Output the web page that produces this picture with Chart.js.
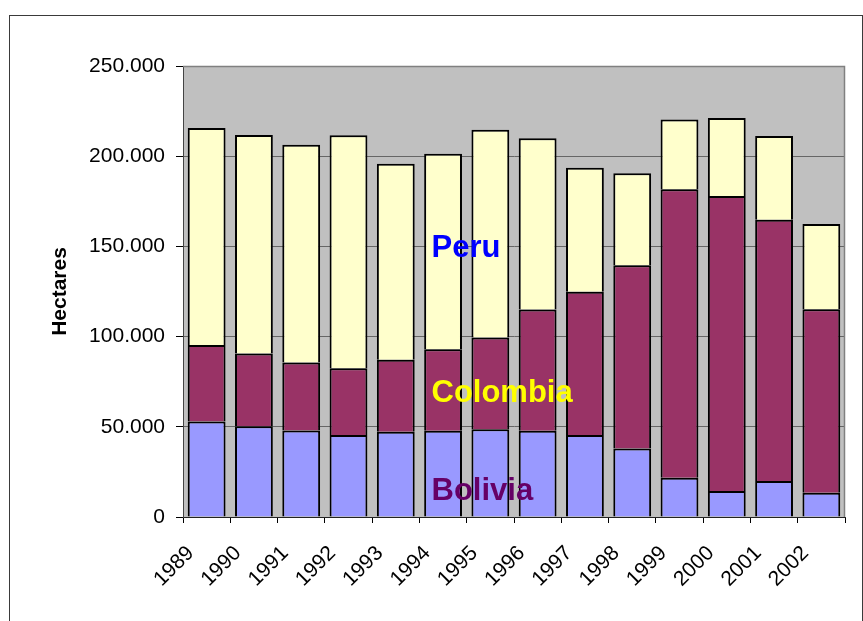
<!DOCTYPE html>
<html>
<head>
<meta charset="utf-8">
<script src="https://cdn.jsdelivr.net/npm/chart.js@4.4.0/dist/chart.umd.min.js"></script>
<style>
  html, body { margin: 0; padding: 0; background: #ffffff; }
  canvas { display: block; }
</style>
</head>
<body>
<canvas id="c" width="863" height="621"></canvas>
<script>
const years = ['1989','1990','1991','1992','1993','1994','1995','1996','1997','1998','1999','2000','2001','2002'];
const bolivia  = [52900, 50300, 47900, 45500, 47200, 47800, 48600, 47800, 45500, 38000, 21800, 14400, 19900, 13400];
const colombia = [42400, 40300, 37700, 36900, 40000, 45200, 50900, 67200, 79400, 101500, 159900, 163600, 144900, 101800];
const peru     = [120400, 121100, 120700, 129200, 108600, 108400, 115200, 95000, 68700, 51000, 38700, 43200, 46400, 47200];
const seriesNames = ['Bolivia', 'Colombia', 'Peru'];
const yTicks = [0, 50000, 100000, 150000, 200000, 250000];
const axisTitle = 'Hectares';

const FONT = "'Liberation Sans', Arial, sans-serif";

function fmt(v) {
  return String(v).replace(/\B(?=(\d{3})+(?!\d))/g, '.');
}

const backgroundPlugin = {
  id: 'bgPlot',
  beforeDraw(chart) {
    const { ctx, chartArea: a } = chart;
    ctx.save();
    ctx.fillStyle = '#ffffff';
    ctx.fillRect(0, 0, chart.width, chart.height);
    ctx.strokeStyle = '#3a3a3a';
    ctx.lineWidth = 1;
    ctx.strokeRect(9.5, 15.5, 853, 620);
    ctx.fillStyle = '#C0C0C0';
    ctx.fillRect(a.left, a.top, a.right - a.left, a.bottom - a.top);
    ctx.restore();
  },
  afterDatasetsDraw(chart) {
    const { ctx, chartArea: a } = chart;
    ctx.save();
    ctx.strokeStyle = '#808080';
    ctx.lineWidth = 1.5;
    ctx.beginPath();
    ctx.moveTo(a.left, a.top + 0.5);
    ctx.lineTo(a.right - 0.5, a.top + 0.5);
    ctx.lineTo(a.right - 0.5, a.bottom);
    ctx.stroke();
    // series name labels inside plot
    ctx.font = "bold 31px " + FONT;
    ctx.textAlign = 'left';
    ctx.textBaseline = 'alphabetic';
    const x = a.left + 248.5;
    ctx.fillStyle = '#0000FF';
    ctx.fillText(seriesNames[2], x, a.top + 190.7);
    ctx.fillStyle = '#FFFF00';
    ctx.fillText(seriesNames[1], x, a.top + 335.7);
    ctx.fillStyle = '#660066';
    ctx.fillText(seriesNames[0], x, a.top + 434);
    ctx.restore();
  }
};

const common = { borderColor: '#000000', borderWidth: 2, barPercentage: 0.8, categoryPercentage: 1.0 };

new Chart(document.getElementById('c'), {
  type: 'bar',
  data: {
    labels: years,
    datasets: [
      Object.assign({ label: seriesNames[0], data: bolivia,  backgroundColor: '#9999FF' }, common),
      Object.assign({ label: seriesNames[1], data: colombia, backgroundColor: '#993366' }, common),
      Object.assign({ label: seriesNames[2], data: peru,     backgroundColor: '#FFFFCC' }, common)
    ]
  },
  options: {
    responsive: false,
    animation: false,
    devicePixelRatio: 1,
    layout: { padding: { left: 0, top: 66, right: 18, bottom: 0 } },
    plugins: { legend: { display: false }, tooltip: { enabled: false }, title: { display: false } },
    scales: {
      x: {
        stacked: true,
        grid: { display: true, drawOnChartArea: false, offset: true, tickLength: 6, tickColor: '#000000' },
        border: { color: '#222222', width: 1 },
        ticks: {
          autoSkip: false, minRotation: 45, maxRotation: 45,
          labelOffset: -16, padding: 18,
          color: '#000000', font: { family: FONT, size: 21 }
        },
        afterFit(s) { s.height = 104; }
      },
      y: {
        stacked: true,
        min: 0, max: 250000,
        afterBuildTicks(s) { s.ticks = yTicks.map(v => ({ value: v })); },
        grid: { color: '#666666', lineWidth: 1, tickLength: 7, tickColor: '#000000' },
        border: { color: '#444444', width: 1 },
        ticks: {
          padding: 11, color: '#000000', font: { family: FONT, size: 21 },
          callback: v => fmt(v)
        },
        title: {
          display: true, text: axisTitle, color: '#000000',
          font: { family: FONT, size: 21, weight: 'bold' },
          padding: { top: 48, bottom: 0 }
        },
        afterFit(s) { s.width = 183; }
      }
    }
  },
  plugins: [backgroundPlugin]
});
</script>
</body>
</html>
